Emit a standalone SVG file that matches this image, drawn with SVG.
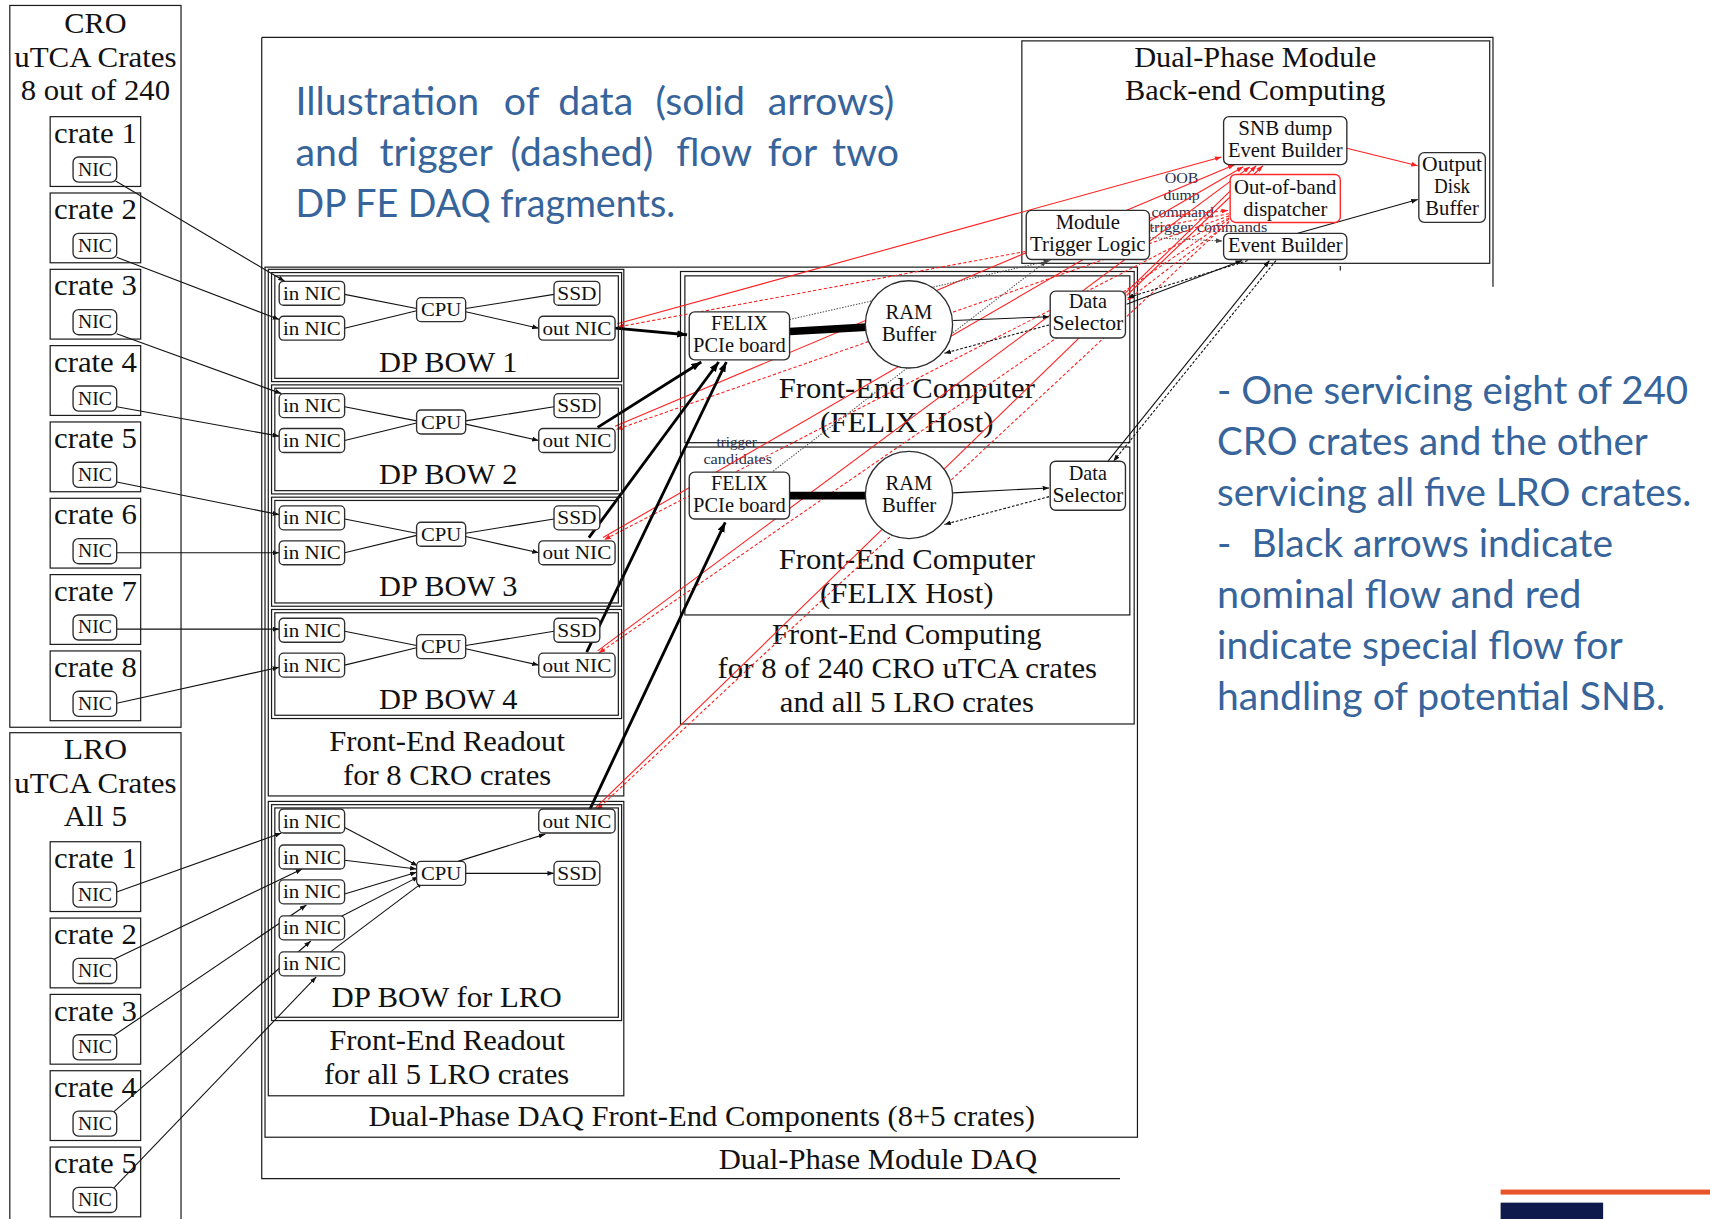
<svg xmlns="http://www.w3.org/2000/svg" width="1710" height="1219" viewBox="0 0 1710 1219">
<defs>
<style>
.frame{fill:none;stroke:#1a1a1a;stroke-width:1.1}
.node{fill:#fff;stroke:#2e2e2e;stroke-width:1.25}
.oob{fill:#fff;stroke:#ff2a2a;stroke-width:1.3}
.tx{font-family:"Liberation Serif","Times New Roman",serif;fill:#111;text-anchor:middle}
.big{font-size:26.5px}
.cr{font-size:27px}
.mid{font-size:19px}
.sm{font-size:18px}
.tiny{font-size:13.5px;fill:#2b2f4a}
.blue{font-family:Lato,"Open Sans","Noto Sans",sans-serif;font-size:36px;fill:#36649b}
.c{fill:none;stroke:#111;stroke-width:1;marker-end:url(#ah)}
.thick{fill:none;stroke:#000;stroke-width:2.6;marker-end:url(#ahb)}
.bus{fill:none;stroke:#000;stroke-width:7}
.dot{fill:none;stroke:#555;stroke-width:1;stroke-dasharray:1.3 1.3;marker-end:url(#ahg)}
.dash{fill:none;stroke:#111;stroke-width:1;stroke-dasharray:2.5 1.6;marker-end:url(#ah)}
.rs{fill:none;stroke:#ff1f1f;stroke-width:1;marker-end:url(#ahr)}
.rd{fill:none;stroke:#ff1f1f;stroke-width:1;stroke-dasharray:3 2;marker-end:url(#ahr)}
</style>
<marker id="ah" viewBox="0 0 8 6" refX="8" refY="3" markerWidth="6" markerHeight="4.5" markerUnits="userSpaceOnUse" orient="auto"><path d="M0,0 L8,3 L0,6 z" fill="#111"/></marker>
<marker id="ahg" viewBox="0 0 8 6" refX="8" refY="3" markerWidth="6" markerHeight="4.5" markerUnits="userSpaceOnUse" orient="auto"><path d="M0,0 L8,3 L0,6 z" fill="#444"/></marker>
<marker id="ahr" viewBox="0 0 8 6" refX="8" refY="3" markerWidth="6" markerHeight="4.5" markerUnits="userSpaceOnUse" orient="auto"><path d="M0,0 L8,3 L0,6 z" fill="#ff1f1f"/></marker>
<marker id="ahb" viewBox="0 0 8 6" refX="8" refY="3" markerWidth="9" markerHeight="7" markerUnits="userSpaceOnUse" orient="auto"><path d="M0,0 L8,3 L0,6 z" fill="#000"/></marker>
</defs>
<rect width="1710" height="1219" fill="#fff"/>
<g transform="scale(1.09056 1.09034)">

<!-- explanatory captions -->
<g id="caption-top" class="blue">
<text y="105.5"><tspan x="271">Illustration</tspan><tspan x="462">of</tspan><tspan x="512">data</tspan><tspan x="601">(solid</tspan><tspan x="704">arrows)</tspan></text>
<text y="152"><tspan x="271">and</tspan><tspan x="348">trigger</tspan><tspan x="468">(dashed)</tspan><tspan x="620">flow</tspan><tspan x="704">for</tspan><tspan x="763">two</tspan></text>
<text x="271" y="198.7" textLength="348" lengthAdjust="spacingAndGlyphs">DP FE DAQ fragments.</text>
</g>
<g id="caption-right" class="blue">
<text x="1116" y="370.5" textLength="432" lengthAdjust="spacingAndGlyphs">- One servicing eight of 240</text>
<text x="1116" y="417" textLength="395" lengthAdjust="spacingAndGlyphs">CRO crates and the other</text>
<text x="1116" y="463.7" textLength="435" lengthAdjust="spacingAndGlyphs">servicing all five LRO crates.</text>
<text x="1116" y="510.4" textLength="363" lengthAdjust="spacingAndGlyphs" xml:space="preserve">-  Black arrows indicate</text>
<text x="1116" y="557.6" textLength="334" lengthAdjust="spacingAndGlyphs">nominal flow and red</text>
<text x="1116" y="604.3" textLength="372" lengthAdjust="spacingAndGlyphs">indicate special flow for</text>
<text x="1116" y="651" textLength="411" lengthAdjust="spacingAndGlyphs">handling of potential SNB.</text>
</g>

<!-- enclosing frames -->
<g id="dp-module-daq">
<path class="frame" d="M240,34.3 H1369 V263 M240,34.3 V1081 H1027"/>
<path class="frame" d="M1229,244 V248"/>
<text class="tx big" x="805" y="1072" textLength="292" lengthAdjust="spacingAndGlyphs">Dual-Phase Module DAQ</text>
</g>
<g id="fe-components">
<rect class="frame" x="243" y="245" width="800" height="798"/>
<text class="tx big" x="643.5" y="1033" textLength="611" lengthAdjust="spacingAndGlyphs">Dual-Phase DAQ Front-End Components (8+5 crates)</text>
</g>
<g id="fe-readout-cro">
<rect class="frame" x="246" y="247" width="326" height="483"/>
<text class="tx big" x="410" y="689" textLength="216" lengthAdjust="spacingAndGlyphs">Front-End Readout</text>
<text class="tx big" x="410" y="720" textLength="191" lengthAdjust="spacingAndGlyphs">for 8 CRO crates</text>
</g>
<g id="fe-readout-lro">
<rect class="frame" x="246" y="735" width="326" height="270"/>
<text class="tx big" x="410" y="963" textLength="216" lengthAdjust="spacingAndGlyphs">Front-End Readout</text>
<text class="tx big" x="409.5" y="994" textLength="225" lengthAdjust="spacingAndGlyphs">for all 5 LRO crates</text>
</g>
<g id="fe-computing">
<rect class="frame" x="624" y="249" width="416" height="415"/>
<text class="tx big" x="831.5" y="591" textLength="247" lengthAdjust="spacingAndGlyphs">Front-End Computing</text>
<text class="tx big" x="832" y="622" textLength="348" lengthAdjust="spacingAndGlyphs">for 8 of 240 CRO uTCA crates</text>
<text class="tx big" x="831.5" y="653" textLength="233" lengthAdjust="spacingAndGlyphs">and all 5 LRO crates</text>
</g>
<g id="fe-computer-1">
<rect class="frame" x="628" y="253" width="408" height="153"/>
<text class="tx big" x="831.5" y="365" textLength="235" lengthAdjust="spacingAndGlyphs">Front-End Computer</text>
<text class="tx big" x="831.5" y="396" textLength="159" lengthAdjust="spacingAndGlyphs">(FELIX Host)</text>
</g>
<g id="fe-computer-2">
<rect class="frame" x="628" y="410" width="408" height="154"/>
<text class="tx big" x="831.5" y="522" textLength="235" lengthAdjust="spacingAndGlyphs">Front-End Computer</text>
<text class="tx big" x="831.5" y="553" textLength="159" lengthAdjust="spacingAndGlyphs">(FELIX Host)</text>
<text class="tx tiny" x="675.5" y="410" textLength="37" lengthAdjust="spacingAndGlyphs">trigger</text>
<text class="tx tiny" x="676.5" y="425.5" textLength="63" lengthAdjust="spacingAndGlyphs">candidates</text>
</g>
<g id="backend">
<rect class="frame" x="937" y="37.5" width="429" height="204"/>
<text class="tx big" x="1151" y="61" textLength="222" lengthAdjust="spacingAndGlyphs">Dual-Phase Module</text>
<text class="tx big" x="1151" y="92" textLength="239" lengthAdjust="spacingAndGlyphs">Back-end Computing</text>
<text class="tx tiny" x="1083.5" y="168" textLength="31" lengthAdjust="spacingAndGlyphs">OOB</text>
<text class="tx tiny" x="1083.5" y="183.6" textLength="33" lengthAdjust="spacingAndGlyphs">dump</text>
<text class="tx tiny" x="1084.5" y="199" textLength="57" lengthAdjust="spacingAndGlyphs">command</text>
<text class="tx tiny" x="1108" y="212.7" textLength="108" lengthAdjust="spacingAndGlyphs">trigger commands</text>
</g>

<!-- connectors -->
<g id="connectors">
<!-- CRO crates to BOW input NICs -->
<path class="c" d="M106,166 L261,258"/>
<path class="c" d="M107,236 L256,293"/>
<path class="c" d="M107,306 L258,361"/>
<path class="c" d="M107,373 L256,400"/>
<path class="c" d="M107,442 L256,472"/>
<path class="c" d="M107,507 L256,507"/>
<path class="c" d="M107,577 L256,577"/>
<path class="c" d="M107,645 L256,612"/>
<!-- LRO crates to LRO BOW input NICs -->
<path class="c" d="M107,818 L258,764"/>
<path class="c" d="M104,880 L277,797"/>
<path class="c" d="M104,950 L281,830"/>
<path class="c" d="M104,1020 L285,863"/>
<path class="c" d="M104,1090 L290,896"/>
<!-- inside BOW 1..4 -->
<path class="c" d="M316,270 L382,283 M316,301 L382,285 M427,283 L508,270 M427,286 L494,301"/>
<path class="c" d="M316,373 L382,386 M316,404 L382,388 M427,386 L508,373 M427,389 L494,404"/>
<path class="c" d="M316,476 L382,489 M316,507 L382,491 M427,489 L508,476 M427,492 L494,507"/>
<path class="c" d="M316,579 L382,592 M316,610 L382,594 M427,592 L508,579 M427,595 L494,610"/>
<!-- inside LRO BOW -->
<path class="c" d="M316,759 L383,794"/>
<path class="c" d="M316,789 L382,797"/>
<path class="c" d="M316,820 L382,800"/>
<path class="c" d="M310,842 L384,804"/>
<path class="c" d="M303,873 L388,809"/>
<path class="c" d="M420,790 L500,765"/>
<path class="c" d="M427,801 L508,801"/>
<!-- SNB special flow: dump commands and dump data -->
<path class="rs" d="M566,297 L1120,144"/>
<path class="rd" d="M1127,196 L566,300"/>
<path class="rs" d="M564,391 L1132,151"/>
<path class="rd" d="M1127,198 L565,394"/>
<path class="rs" d="M553,493 L1140,153"/>
<path class="rd" d="M1127,200 L554,495"/>
<path class="rs" d="M548,597 L1146,153"/>
<path class="rd" d="M1127,201 L549,599"/>
<path class="rs" d="M546,741 L1152,152"/>
<path class="rd" d="M1127,203 L547,743"/>
<path class="rs" d="M1033,271 L1158,152"/>
<path class="rd" d="M1127,204 L1034,275"/>
<path class="rd" d="M1054,200 L1126,193"/>
<path class="rs" d="M1235,136 L1300,152"/>
<!-- BOW output to FELIX boards -->
<path class="thick" d="M564,301 L630,307"/>
<path class="thick" d="M548,392 L643,332"/>
<path class="thick" d="M540,493 L659,332"/>
<path class="thick" d="M538,598 L666,332"/>
<path class="thick" d="M541,742 L665,479"/>
<path class="bus" d="M724,304 L795,300"/>
<path class="bus" d="M724,454.5 L795,454.5"/>
<!-- RAM buffer and data selector -->
<path class="c" d="M874,294 L962,290.5"/>
<path class="dash" d="M962,298 L866,324"/>
<path class="c" d="M874,452 L962,447.5"/>
<path class="dash" d="M962,455.5 L866,481"/>
<!-- trigger candidates and commands -->
<path class="dot" d="M724,293 L963,239"/>
<path class="dot" d="M709,432 L960,239"/>
<path class="dot" d="M1054,218 L1121,221"/>
<!-- event building -->
<path class="c" d="M1033,279 L1139,239"/>
<path class="dash" d="M1144,239 L1034,273"/>
<path class="c" d="M1016,423 L1164,239"/>
<path class="dash" d="M1170,239 L1021,423"/>
<path class="c" d="M1190,214 L1300,183"/>
</g>

<!-- CRO crates -->
<g id="cro">
<rect class="frame" x="9" y="5" width="157" height="662"/>
<text class="tx big" x="87.5" y="30" textLength="57" lengthAdjust="spacingAndGlyphs">CRO</text>
<text class="tx big" x="87.5" y="61" textLength="149" lengthAdjust="spacingAndGlyphs">uTCA Crates</text>
<text class="tx big" x="87.5" y="92" textLength="137" lengthAdjust="spacingAndGlyphs">8 out of 240</text>
</g>
<g id="cro-crate-1"><rect class="frame" x="46" y="107" width="83" height="64"/><text class="tx cr" x="87.5" y="131" textLength="76" lengthAdjust="spacingAndGlyphs">crate 1</text><rect class="node" x="67" y="144" width="40" height="23" rx="5"/><text class="tx sm" x="87" y="161" textLength="31" lengthAdjust="spacingAndGlyphs">NIC</text></g>
<g id="cro-crate-2"><rect class="frame" x="46" y="177" width="83" height="64"/><text class="tx cr" x="87.5" y="201" textLength="76" lengthAdjust="spacingAndGlyphs">crate 2</text><rect class="node" x="67" y="214" width="40" height="23" rx="5"/><text class="tx sm" x="87" y="231" textLength="31" lengthAdjust="spacingAndGlyphs">NIC</text></g>
<g id="cro-crate-3"><rect class="frame" x="46" y="247" width="83" height="64"/><text class="tx cr" x="87.5" y="271" textLength="76" lengthAdjust="spacingAndGlyphs">crate 3</text><rect class="node" x="67" y="284" width="40" height="23" rx="5"/><text class="tx sm" x="87" y="301" textLength="31" lengthAdjust="spacingAndGlyphs">NIC</text></g>
<g id="cro-crate-4"><rect class="frame" x="46" y="317" width="83" height="64"/><text class="tx cr" x="87.5" y="341" textLength="76" lengthAdjust="spacingAndGlyphs">crate 4</text><rect class="node" x="67" y="354" width="40" height="23" rx="5"/><text class="tx sm" x="87" y="371" textLength="31" lengthAdjust="spacingAndGlyphs">NIC</text></g>
<g id="cro-crate-5"><rect class="frame" x="46" y="387" width="83" height="64"/><text class="tx cr" x="87.5" y="411" textLength="76" lengthAdjust="spacingAndGlyphs">crate 5</text><rect class="node" x="67" y="424" width="40" height="23" rx="5"/><text class="tx sm" x="87" y="441" textLength="31" lengthAdjust="spacingAndGlyphs">NIC</text></g>
<g id="cro-crate-6"><rect class="frame" x="46" y="457" width="83" height="64"/><text class="tx cr" x="87.5" y="481" textLength="76" lengthAdjust="spacingAndGlyphs">crate 6</text><rect class="node" x="67" y="494" width="40" height="23" rx="5"/><text class="tx sm" x="87" y="511" textLength="31" lengthAdjust="spacingAndGlyphs">NIC</text></g>
<g id="cro-crate-7"><rect class="frame" x="46" y="527" width="83" height="64"/><text class="tx cr" x="87.5" y="551" textLength="76" lengthAdjust="spacingAndGlyphs">crate 7</text><rect class="node" x="67" y="564" width="40" height="23" rx="5"/><text class="tx sm" x="87" y="581" textLength="31" lengthAdjust="spacingAndGlyphs">NIC</text></g>
<g id="cro-crate-8"><rect class="frame" x="46" y="597" width="83" height="64"/><text class="tx cr" x="87.5" y="621" textLength="76" lengthAdjust="spacingAndGlyphs">crate 8</text><rect class="node" x="67" y="634" width="40" height="23" rx="5"/><text class="tx sm" x="87" y="651" textLength="31" lengthAdjust="spacingAndGlyphs">NIC</text></g>

<!-- LRO crates -->
<g id="lro">
<rect class="frame" x="9" y="672" width="157" height="470"/>
<text class="tx big" x="87.5" y="696" textLength="58" lengthAdjust="spacingAndGlyphs">LRO</text>
<text class="tx big" x="87.5" y="727" textLength="149" lengthAdjust="spacingAndGlyphs">uTCA Crates</text>
<text class="tx big" x="87.5" y="758" textLength="58" lengthAdjust="spacingAndGlyphs">All 5</text>
</g>
<g id="lro-crate-1"><rect class="frame" x="46" y="772" width="83" height="64"/><text class="tx cr" x="87.5" y="796" textLength="76" lengthAdjust="spacingAndGlyphs">crate 1</text><rect class="node" x="67" y="809" width="40" height="23" rx="5"/><text class="tx sm" x="87" y="826" textLength="31" lengthAdjust="spacingAndGlyphs">NIC</text></g>
<g id="lro-crate-2"><rect class="frame" x="46" y="842" width="83" height="64"/><text class="tx cr" x="87.5" y="866" textLength="76" lengthAdjust="spacingAndGlyphs">crate 2</text><rect class="node" x="67" y="879" width="40" height="23" rx="5"/><text class="tx sm" x="87" y="896" textLength="31" lengthAdjust="spacingAndGlyphs">NIC</text></g>
<g id="lro-crate-3"><rect class="frame" x="46" y="912" width="83" height="64"/><text class="tx cr" x="87.5" y="936" textLength="76" lengthAdjust="spacingAndGlyphs">crate 3</text><rect class="node" x="67" y="949" width="40" height="23" rx="5"/><text class="tx sm" x="87" y="966" textLength="31" lengthAdjust="spacingAndGlyphs">NIC</text></g>
<g id="lro-crate-4"><rect class="frame" x="46" y="982" width="83" height="64"/><text class="tx cr" x="87.5" y="1006" textLength="76" lengthAdjust="spacingAndGlyphs">crate 4</text><rect class="node" x="67" y="1019" width="40" height="23" rx="5"/><text class="tx sm" x="87" y="1036" textLength="31" lengthAdjust="spacingAndGlyphs">NIC</text></g>
<g id="lro-crate-5"><rect class="frame" x="46" y="1052" width="83" height="64"/><text class="tx cr" x="87.5" y="1076" textLength="76" lengthAdjust="spacingAndGlyphs">crate 5</text><rect class="node" x="67" y="1089" width="40" height="23" rx="5"/><text class="tx sm" x="87" y="1106" textLength="31" lengthAdjust="spacingAndGlyphs">NIC</text></g>

<!-- DP BOW nodes -->
<g id="dp-bow-1">
<rect class="frame" x="249" y="250" width="321" height="100"/><rect class="frame" x="252" y="253" width="315" height="94"/>
<rect class="node" x="256" y="258" width="60" height="22" rx="4"/><text class="tx sm" x="286" y="275" textLength="53" lengthAdjust="spacingAndGlyphs">in NIC</text>
<rect class="node" x="256" y="290" width="60" height="22" rx="4"/><text class="tx sm" x="286" y="307" textLength="53" lengthAdjust="spacingAndGlyphs">in NIC</text>
<rect class="node" x="382" y="273" width="45" height="22" rx="4"/><text class="tx sm" x="404.5" y="290" textLength="37" lengthAdjust="spacingAndGlyphs">CPU</text>
<rect class="node" x="508" y="258" width="42" height="22" rx="4"/><text class="tx sm" x="529" y="275" textLength="36" lengthAdjust="spacingAndGlyphs">SSD</text>
<rect class="node" x="494" y="290" width="70" height="22" rx="4"/><text class="tx sm" x="529" y="307" textLength="63" lengthAdjust="spacingAndGlyphs">out NIC</text>
<text class="tx big" x="411" y="341" textLength="127" lengthAdjust="spacingAndGlyphs">DP BOW 1</text>
</g>
<g id="dp-bow-2">
<rect class="frame" x="249" y="353" width="321" height="100"/><rect class="frame" x="252" y="356" width="315" height="94"/>
<rect class="node" x="256" y="361" width="60" height="22" rx="4"/><text class="tx sm" x="286" y="378" textLength="53" lengthAdjust="spacingAndGlyphs">in NIC</text>
<rect class="node" x="256" y="393" width="60" height="22" rx="4"/><text class="tx sm" x="286" y="410" textLength="53" lengthAdjust="spacingAndGlyphs">in NIC</text>
<rect class="node" x="382" y="376" width="45" height="22" rx="4"/><text class="tx sm" x="404.5" y="393" textLength="37" lengthAdjust="spacingAndGlyphs">CPU</text>
<rect class="node" x="508" y="361" width="42" height="22" rx="4"/><text class="tx sm" x="529" y="378" textLength="36" lengthAdjust="spacingAndGlyphs">SSD</text>
<rect class="node" x="494" y="393" width="70" height="22" rx="4"/><text class="tx sm" x="529" y="410" textLength="63" lengthAdjust="spacingAndGlyphs">out NIC</text>
<text class="tx big" x="411" y="444" textLength="127" lengthAdjust="spacingAndGlyphs">DP BOW 2</text>
</g>
<g id="dp-bow-3">
<rect class="frame" x="249" y="456" width="321" height="100"/><rect class="frame" x="252" y="459" width="315" height="94"/>
<rect class="node" x="256" y="464" width="60" height="22" rx="4"/><text class="tx sm" x="286" y="481" textLength="53" lengthAdjust="spacingAndGlyphs">in NIC</text>
<rect class="node" x="256" y="496" width="60" height="22" rx="4"/><text class="tx sm" x="286" y="513" textLength="53" lengthAdjust="spacingAndGlyphs">in NIC</text>
<rect class="node" x="382" y="479" width="45" height="22" rx="4"/><text class="tx sm" x="404.5" y="496" textLength="37" lengthAdjust="spacingAndGlyphs">CPU</text>
<rect class="node" x="508" y="464" width="42" height="22" rx="4"/><text class="tx sm" x="529" y="481" textLength="36" lengthAdjust="spacingAndGlyphs">SSD</text>
<rect class="node" x="494" y="496" width="70" height="22" rx="4"/><text class="tx sm" x="529" y="513" textLength="63" lengthAdjust="spacingAndGlyphs">out NIC</text>
<text class="tx big" x="411" y="547" textLength="127" lengthAdjust="spacingAndGlyphs">DP BOW 3</text>
</g>
<g id="dp-bow-4">
<rect class="frame" x="249" y="559" width="321" height="100"/><rect class="frame" x="252" y="562" width="315" height="94"/>
<rect class="node" x="256" y="567" width="60" height="22" rx="4"/><text class="tx sm" x="286" y="584" textLength="53" lengthAdjust="spacingAndGlyphs">in NIC</text>
<rect class="node" x="256" y="599" width="60" height="22" rx="4"/><text class="tx sm" x="286" y="616" textLength="53" lengthAdjust="spacingAndGlyphs">in NIC</text>
<rect class="node" x="382" y="582" width="45" height="22" rx="4"/><text class="tx sm" x="404.5" y="599" textLength="37" lengthAdjust="spacingAndGlyphs">CPU</text>
<rect class="node" x="508" y="567" width="42" height="22" rx="4"/><text class="tx sm" x="529" y="584" textLength="36" lengthAdjust="spacingAndGlyphs">SSD</text>
<rect class="node" x="494" y="599" width="70" height="22" rx="4"/><text class="tx sm" x="529" y="616" textLength="63" lengthAdjust="spacingAndGlyphs">out NIC</text>
<text class="tx big" x="411" y="650" textLength="127" lengthAdjust="spacingAndGlyphs">DP BOW 4</text>
</g>
<g id="dp-bow-lro">
<rect class="frame" x="249" y="738" width="321" height="198"/><rect class="frame" x="252" y="741" width="315" height="192"/>
<rect class="node" x="256" y="742" width="60" height="22" rx="4"/><text class="tx sm" x="286" y="759" textLength="53" lengthAdjust="spacingAndGlyphs">in NIC</text>
<rect class="node" x="256" y="775" width="60" height="22" rx="4"/><text class="tx sm" x="286" y="792" textLength="53" lengthAdjust="spacingAndGlyphs">in NIC</text>
<rect class="node" x="256" y="807" width="60" height="22" rx="4"/><text class="tx sm" x="286" y="824" textLength="53" lengthAdjust="spacingAndGlyphs">in NIC</text>
<rect class="node" x="256" y="840" width="60" height="22" rx="4"/><text class="tx sm" x="286" y="857" textLength="53" lengthAdjust="spacingAndGlyphs">in NIC</text>
<rect class="node" x="256" y="873" width="60" height="22" rx="4"/><text class="tx sm" x="286" y="890" textLength="53" lengthAdjust="spacingAndGlyphs">in NIC</text>
<rect class="node" x="382" y="790" width="45" height="22" rx="4"/><text class="tx sm" x="404.5" y="807" textLength="37" lengthAdjust="spacingAndGlyphs">CPU</text>
<rect class="node" x="508" y="790" width="42" height="22" rx="4"/><text class="tx sm" x="529" y="807" textLength="36" lengthAdjust="spacingAndGlyphs">SSD</text>
<rect class="node" x="494" y="742" width="70" height="22" rx="4"/><text class="tx sm" x="529" y="759" textLength="63" lengthAdjust="spacingAndGlyphs">out NIC</text>
<text class="tx big" x="409.5" y="924" textLength="211" lengthAdjust="spacingAndGlyphs">DP BOW for LRO</text>
</g>

<!-- front-end computer components -->
<g id="felix-1"><rect class="node" x="632" y="286" width="92" height="44" rx="5"/><text class="tx mid" x="678" y="302.5" textLength="52" lengthAdjust="spacingAndGlyphs">FELIX</text><text class="tx mid" x="678" y="322.5" textLength="85" lengthAdjust="spacingAndGlyphs">PCIe board</text></g>
<g id="ram-buffer-1"><circle class="node" cx="833.5" cy="297.5" r="40"/><text class="tx mid" x="833.5" y="292.5" textLength="43" lengthAdjust="spacingAndGlyphs">RAM</text><text class="tx mid" x="833.5" y="312.5" textLength="50" lengthAdjust="spacingAndGlyphs">Buffer</text></g>
<g id="data-selector-1"><rect class="node" x="963" y="267" width="69" height="43" rx="5"/><text class="tx mid" x="997.5" y="282.5" textLength="35" lengthAdjust="spacingAndGlyphs">Data</text><text class="tx mid" x="997.5" y="302.5" textLength="65" lengthAdjust="spacingAndGlyphs">Selector</text></g>
<g id="felix-2"><rect class="node" x="632" y="433" width="92" height="43" rx="5"/><text class="tx mid" x="678" y="449.5" textLength="52" lengthAdjust="spacingAndGlyphs">FELIX</text><text class="tx mid" x="678" y="469.5" textLength="85" lengthAdjust="spacingAndGlyphs">PCIe board</text></g>
<g id="ram-buffer-2"><circle class="node" cx="833.5" cy="454" r="40"/><text class="tx mid" x="833.5" y="449.5" textLength="43" lengthAdjust="spacingAndGlyphs">RAM</text><text class="tx mid" x="833.5" y="469.5" textLength="50" lengthAdjust="spacingAndGlyphs">Buffer</text></g>
<g id="data-selector-2"><rect class="node" x="963" y="423" width="69" height="45" rx="5"/><text class="tx mid" x="997.5" y="440" textLength="35" lengthAdjust="spacingAndGlyphs">Data</text><text class="tx mid" x="997.5" y="460" textLength="65" lengthAdjust="spacingAndGlyphs">Selector</text></g>

<!-- back-end computing components -->
<g id="module-trigger-logic"><rect class="node" x="941" y="193" width="113" height="45" rx="5"/><text class="tx mid" x="997.5" y="210" textLength="59" lengthAdjust="spacingAndGlyphs">Module</text><text class="tx mid" x="997.5" y="230" textLength="106" lengthAdjust="spacingAndGlyphs">Trigger Logic</text></g>
<g id="snb-dump-event-builder"><rect class="node" x="1122" y="107" width="113" height="44" rx="5"/><text class="tx mid" x="1178.5" y="124" textLength="86" lengthAdjust="spacingAndGlyphs">SNB dump</text><text class="tx mid" x="1178.5" y="144" textLength="105" lengthAdjust="spacingAndGlyphs">Event Builder</text></g>
<g id="oob-dispatcher"><rect class="oob" x="1128" y="160" width="101" height="44" rx="5"/><text class="tx mid" x="1178.5" y="178" textLength="94" lengthAdjust="spacingAndGlyphs">Out-of-band</text><text class="tx mid" x="1178.5" y="198" textLength="77" lengthAdjust="spacingAndGlyphs">dispatcher</text></g>
<g id="event-builder"><rect class="node" x="1122" y="214" width="113" height="24" rx="5"/><text class="tx mid" x="1178.5" y="231" textLength="105" lengthAdjust="spacingAndGlyphs">Event Builder</text></g>
<g id="output-disk-buffer"><rect class="node" x="1301" y="140" width="61" height="64" rx="5"/><text class="tx mid" x="1331.5" y="157" textLength="55" lengthAdjust="spacingAndGlyphs">Output</text><text class="tx mid" x="1331.5" y="177" textLength="33" lengthAdjust="spacingAndGlyphs">Disk</text><text class="tx mid" x="1331.5" y="197" textLength="49" lengthAdjust="spacingAndGlyphs">Buffer</text></g>

<!-- slide footer accent -->
<g id="footer-accent">
<rect x="1376" y="1091" width="200" height="4.6" fill="#e8552a"/>
<rect x="1376" y="1103" width="94" height="20" fill="#0e1a4b"/>
</g>
</g>
</svg>
